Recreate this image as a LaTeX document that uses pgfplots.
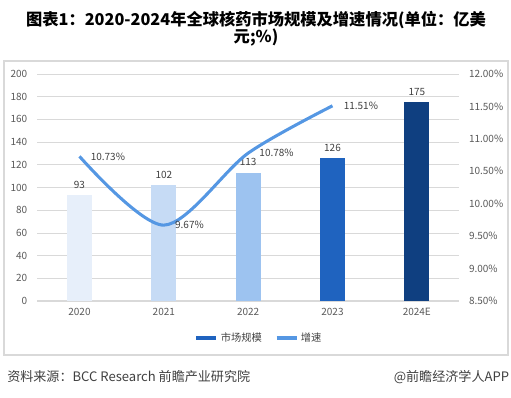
\documentclass[border=0pt]{standalone}
\usepackage{pgfplots}
\pgfplotsset{compat=1.18}
\usepackage{fontspec}
\setmainfont{Noto Sans CJK SC}
\definecolor{barA}{HTML}{E7EFFA}
\definecolor{barB}{HTML}{C6DBF5}
\definecolor{barC}{HTML}{9DC3F0}
\definecolor{barD}{HTML}{1F63BF}
\definecolor{barE}{HTML}{0F3F80}
\definecolor{linec}{HTML}{5597E3}
\definecolor{tickc}{HTML}{595959}
\definecolor{labc}{HTML}{404040}
\definecolor{gridc}{HTML}{D9D9D9}
\begin{document}
\begin{tikzpicture}
\path[use as bounding box] (0,0) rectangle (383.25pt,-297.75pt);
\draw[gridc, line width=0.8pt] (3pt,-45.75pt) rectangle (381pt,-266.25pt);
\node[font=\fontsize{12.2}{14}\selectfont\bfseries, text=black] at (192pt,-15pt) {图表1：2020-2024年全球核药市场规模及增速情况(单位：亿美};
\node[font=\fontsize{12.2}{14}\selectfont\bfseries, text=black] at (192pt,-28pt) {元;\%)};
\node[font=\fontsize{9.8}{11}\selectfont, text=labc, anchor=west, inner sep=0pt] at (5.25pt,-282.75pt) {资料来源：BCC Research 前瞻产业研究院};
\node[font=\fontsize{9.8}{11}\selectfont, text=labc, anchor=east, inner sep=0pt] at (382pt,-282.75pt) {@前瞻经济学人APP};
\begin{axis}[
  at={(28pt,-225.75pt)}, anchor=south west,
  scale only axis, width=316.25pt, height=170.25pt,
  xmin=-0.5, xmax=4.5, ymin=0, ymax=200,
  ytick={0,20,...,200},
  xtick={0,1,2,3,4},
  xticklabels={2020,2021,2022,2023,2024E},
  ymajorgrids, grid style={gridc, line width=0.6pt},
  axis x line*=bottom, axis y line*=left,
  y axis line style={draw=none},
  x axis line style={gridc, line width=0.8pt},
  major tick length=0pt,
  tick label style={font=\fontsize{7.5}{9}\selectfont, text=tickc},
  /pgf/number format/assume math mode=true,
  yticklabel style={xshift=-4pt},
  xticklabel style={yshift=-2pt},
  ybar, bar width=18.75pt, bar shift=0pt,
  nodes near coords,
  every node near coord/.append style={font=\fontsize{7.5}{9}\selectfont, text=labc, yshift=1.5pt},
]
\addplot[fill=barA, draw=none] coordinates {(0,93)};
\addplot[fill=barB, draw=none] coordinates {(1,102)};
\addplot[fill=barC, draw=none] coordinates {(2,113)};
\addplot[fill=barD, draw=none] coordinates {(3,126)};
\addplot[fill=barE, draw=none] coordinates {(4,175)};
\end{axis}
\begin{axis}[
  at={(28pt,-225.75pt)}, anchor=south west,
  scale only axis, width=316.25pt, height=170.25pt,
  xmin=-0.5, xmax=4.5, ymin=8.5, ymax=12,
  ytick={8.5,9,...,12},
  axis y line*=right, axis x line=none,
  y axis line style={draw=none},
  major tick length=0pt,
  tick label style={font=\fontsize{7.5}{9}\selectfont, text=tickc},
  /pgf/number format/assume math mode=true,
  yticklabel={\pgfmathprintnumber[fixed,fixed zerofill,precision=2]{\tick}\%},
  yticklabel style={xshift=4pt},
  legend style={at={(0.526,-0.163)}, anchor=center, draw=none, fill=none,
    font=\fontsize{7.7}{9}\selectfont, text=labc, legend columns=2,
    /tikz/every even column/.append style={column sep=8pt}},
  legend image code/.code={\draw[#1] (0pt,0pt) -- (15pt,0pt);},
]
\addlegendimage{line width=3pt, color=barD}
\addlegendentry{市场规模}
\addplot[smooth, color=linec, line width=2.3pt,
  nodes near coords={\pgfmathprintnumber[fixed,fixed zerofill,precision=2]{\pgfplotspointmeta}\%},
  point meta=y,
  every node near coord/.append style={font=\fontsize{7.5}{9}\selectfont, text=labc, anchor=west, xshift=4pt}]
  coordinates {(0,10.73) (1,9.67) (2,10.78) (3,11.51)};
\addlegendentry{增速}
\end{axis}
\end{tikzpicture}
\end{document}
